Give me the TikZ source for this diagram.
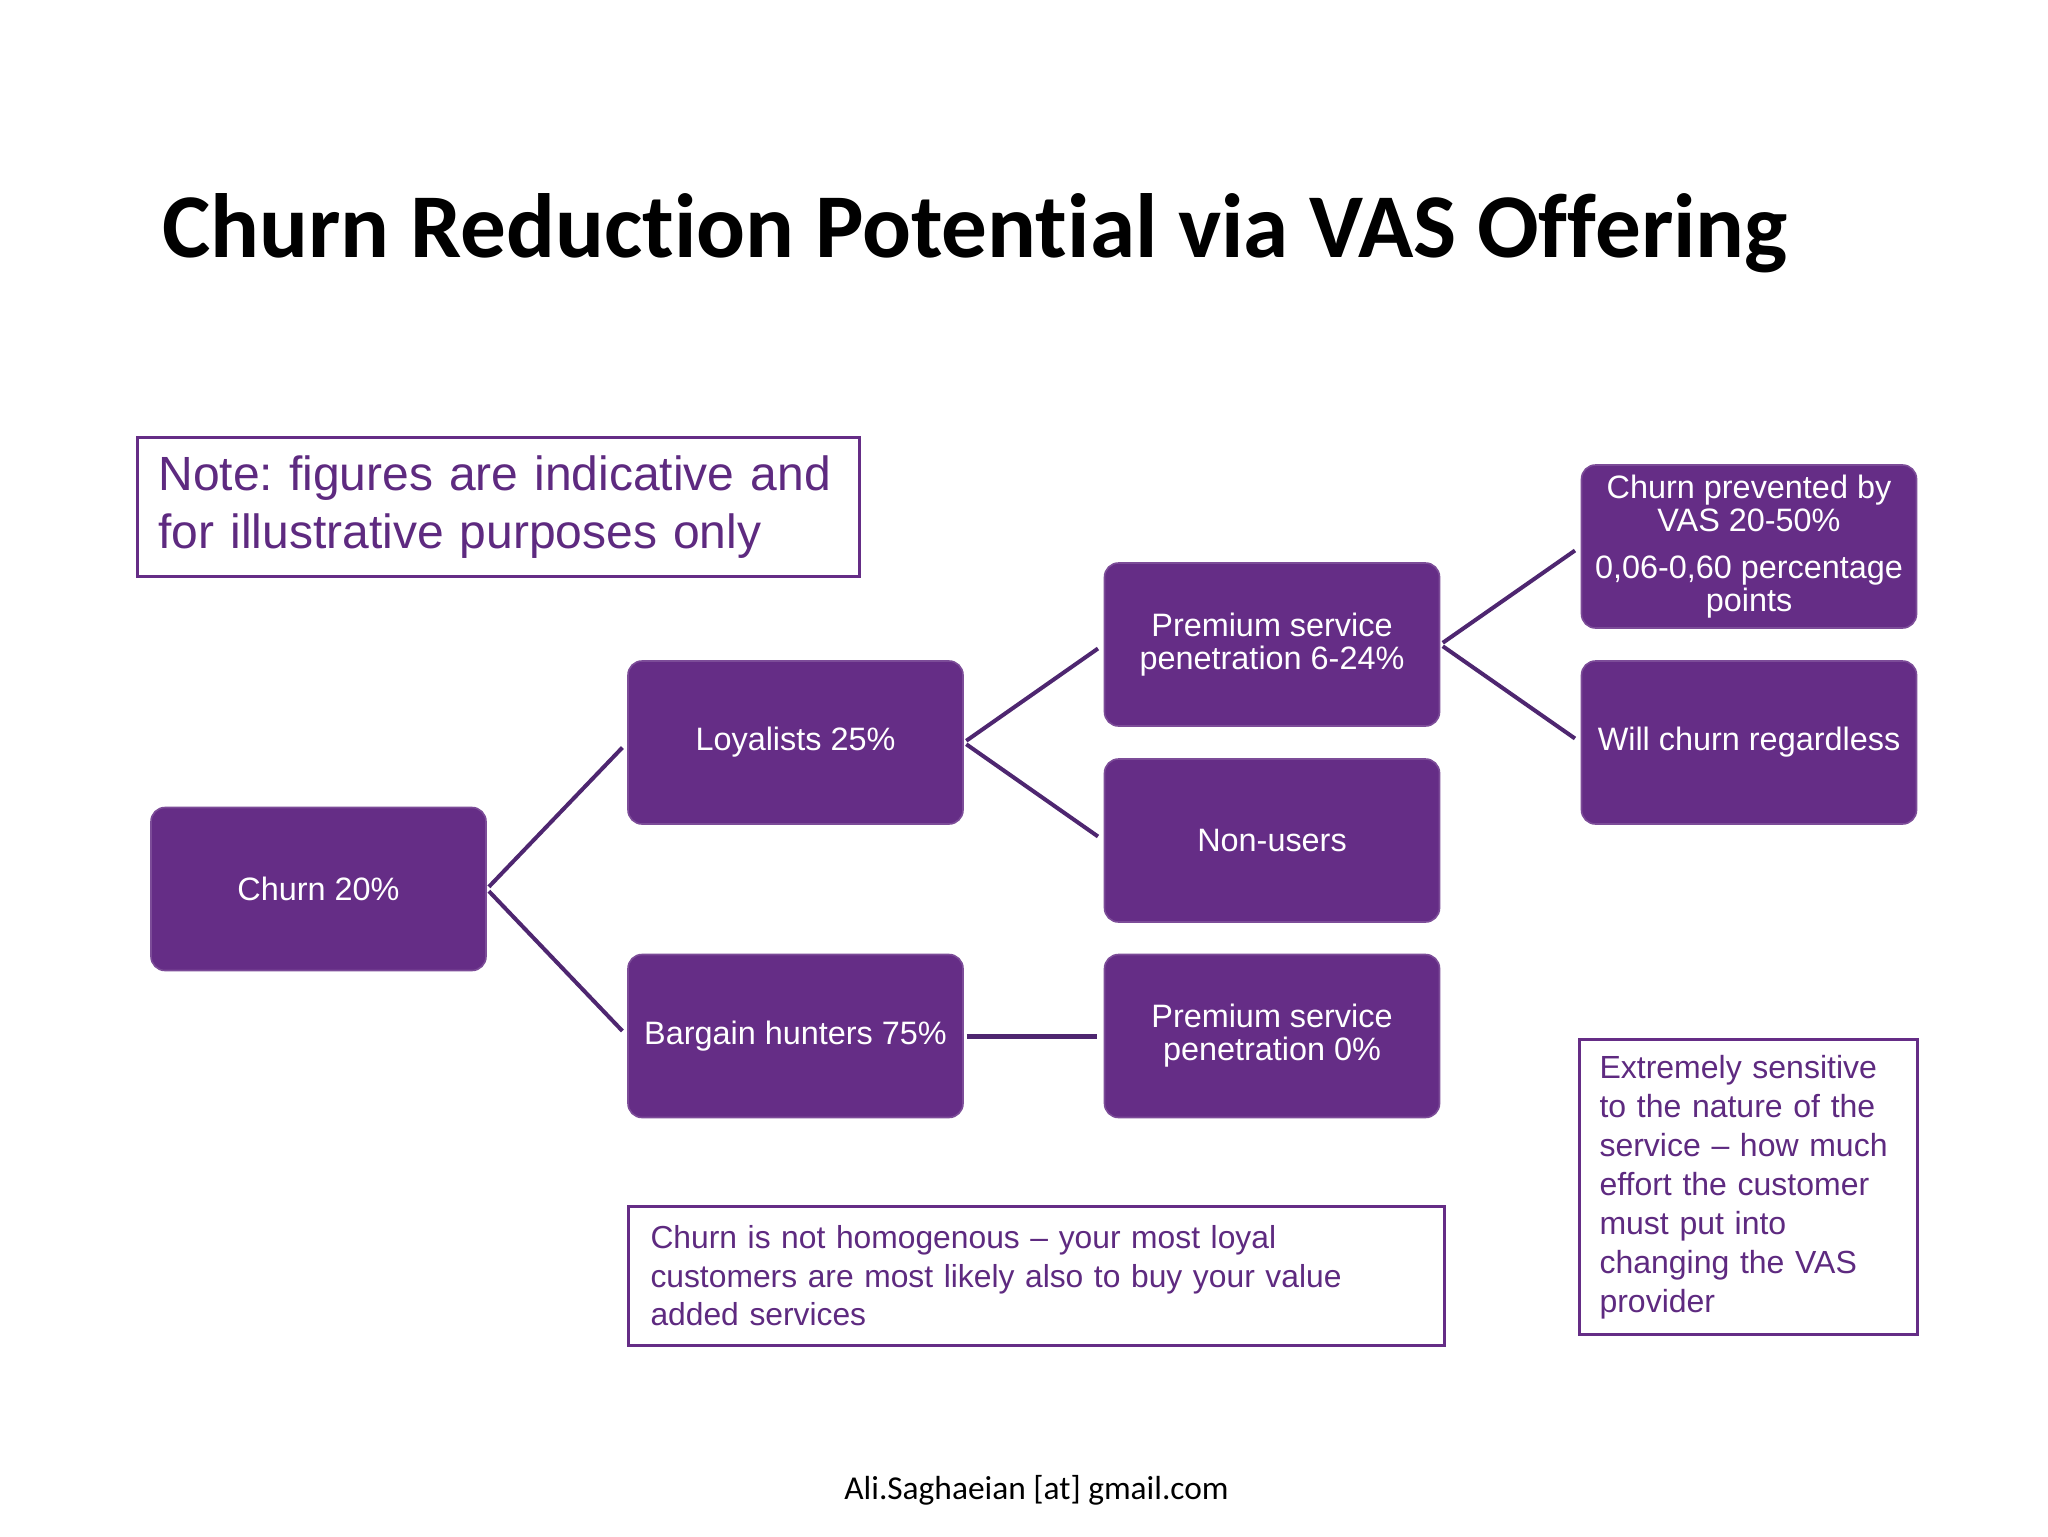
\documentclass[tikz,border=0pt]{standalone}
\usepackage{fontspec}
\setmainfont{Liberation Sans}
\newfontfamily\calibri[Ligatures={NoCommon}]{Carlito}
\definecolor{vpurple}{HTML}{652D86}
\definecolor{vline}{HTML}{4E2670}
\definecolor{vtext}{HTML}{5E2A80}
\tikzset{
  pbox/.style={fill=vpurple, draw=vpurple!85!white, line width=0.8pt, rounded corners=7pt,
    minimum width=167.5pt, minimum height=81.5pt, inner sep=0pt, text=white, align=center,
    font=\fontsize{16.2}{16.4}\selectfont},
  obox/.style={draw=vpurple, line width=1.5pt, fill=white, text=vtext, align=left, inner ysep=0pt},
  conn/.style={draw=vline, line width=2pt, shorten <=1.5pt, shorten >=3.5pt},
}
\begin{document}
\frenchspacing
\begin{tikzpicture}[x=0.5pt,y=-0.5pt]
\useasboundingbox (0,0) rectangle (2048,1536);
\fill[white] (0,0) rectangle (2048,1536);
% title
\node[anchor=base west, inner sep=0pt, font=\calibri\bfseries\fontsize{45.6}{48}\selectfont] (title) at (162,257) {Churn Reduction Potential via VAS Offering};
% note
\node[obox, anchor=north west, minimum width=361pt, minimum height=69.5pt, inner xsep=10.5pt, text width=340pt,
  font=\fontsize{24}{29}\selectfont] (note) at (136,436) {\mbox{Note: figures are indicative and}\\\mbox{for illustrative purposes only}};
% purple boxes
\node[pbox] (churn) at (318.5,889) {Churn 20\%};
\node[pbox] (loyal) at (795.5,742.5) {Loyalists 25\%};
\node[pbox] (bargain) at (795.5,1036) {Bargain hunters 75\%};
\node[pbox] (prem1) at (1272,644.5) {Premium service\\penetration 6-24\%};
\node[pbox] (nonusers) at (1272,840.5) {Non-users};
\node[pbox] (prem0) at (1272,1036) {Premium service\\penetration 0\%};
\node[pbox] (prevented) at (1749,546.5) {Churn prevented by\\VAS 20-50\%\\[7pt]0,06-0,60 percentage\\points};
\node[pbox] (willchurn) at (1749,742.5) {Will churn regardless};
% connectors
\draw[conn] (churn.east) -- (loyal.west);
\draw[conn] (churn.east) -- (bargain.west);
\draw[conn] (loyal.east) -- (prem1.west);
\draw[conn] (loyal.east) -- (nonusers.west);
\draw[conn, line width=2.5pt] (bargain.east) -- (prem0.west);
\draw[conn] (prem1.east) -- (prevented.west);
\draw[conn] (prem1.east) -- (willchurn.west);
% bottom note
\node[obox, anchor=north west, minimum width=408pt, minimum height=69.5pt, inner xsep=11pt, text width=386pt,
  font=\fontsize{15.9}{19.25}\selectfont] (homog) at (627,1205) {Churn is not homogenous -- your most loyal\\customers are most likely also to buy your value\\added services};
% right note
\node[obox, anchor=north west, minimum width=169pt, minimum height=147.5pt, inner xsep=10pt, text width=149pt,
  font=\fontsize{16}{19.5}\selectfont] (sensitive) at (1578,1038) {Extremely sensitive\\to the nature of the\\service -- how much\\effort the customer\\must put into\\changing the VAS\\provider};
% footer
\node[anchor=base, inner sep=0pt, font=\calibri\fontsize{16.7}{18}\selectfont] (footer) at (1036.5,1499) {Ali.Saghaeian [at] gmail.com};
\end{tikzpicture}
\end{document}
